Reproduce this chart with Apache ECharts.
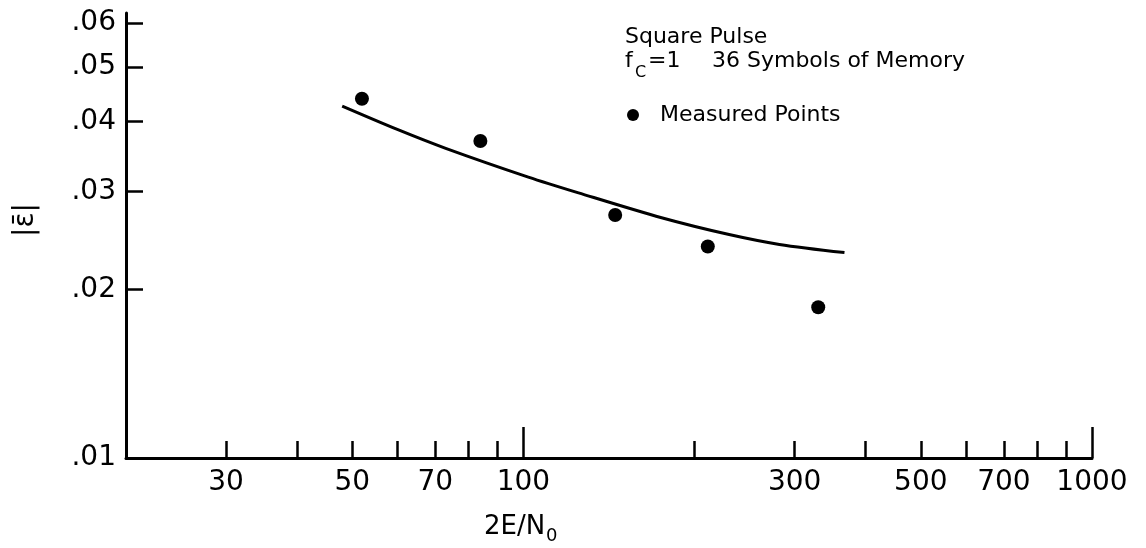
<!DOCTYPE html>
<html>
<head>
<meta charset="utf-8">
<script src="https://cdn.jsdelivr.net/npm/echarts@6/dist/echarts.min.js"></script>
<style>
  html, body { margin: 0; padding: 0; background: #fff; }
  #chart { width: 1146px; height: 548px; }
</style>
</head>
<body>
<div id="chart"></div>
<script>
// Measured error magnitude against 2E/N0
const measuredX = [52, 84, 145, 211, 330];
const measuredY = [0.0439, 0.0369, 0.0272, 0.0239, 0.0186];

// Fitted curve through the measurements
const curveX = [48, 60, 73, 102, 125, 175, 230, 282, 367];
const curveY = [0.0426, 0.0387, 0.0358, 0.0318, 0.0298, 0.0269, 0.0251, 0.0241, 0.0233];

// Axis ticks and labels (log scales)
const xTickMinor = [30, 40, 50, 60, 70, 80, 90, 200, 300, 400, 500, 600, 700, 800, 900];
const xTickMajor = [100, 1000];
const xTickLabels = [30, 50, 70, 100, 300, 500, 700, 1000];
const yTickValues = [0.02, 0.03, 0.04, 0.05, 0.06];
const yTickLabels = [0.01, 0.02, 0.03, 0.04, 0.05, 0.06];

const FONT = 'DejaVu Sans';
const INK = '#000';

const chart = echarts.init(document.getElementById('chart'), null, { renderer: 'canvas' });

const pairs = (xs, ys) => xs.map((x, i) => [x, ys[i]]);

chart.setOption({
  backgroundColor: '#fff',
  animation: false,
  grid: { left: 126, right: 54, top: 13, bottom: 90, containLabel: false },
  xAxis: [
    {
      type: 'log', logBase: 10, min: 20, max: 1000, position: 'bottom',
      axisLine: { show: true, lineStyle: { color: INK, width: 3 } },
      axisTick: { show: true, inside: true, length: 17, customValues: xTickMinor,
                  lineStyle: { color: INK, width: 2.5 } },
      axisLabel: { show: true, customValues: xTickLabels, margin: 11,
                   fontSize: 28, fontFamily: FONT, color: INK,
                   formatter: v => String(Math.round(v)) },
      splitLine: { show: false }, minorTick: { show: false }
    },
    {
      type: 'log', logBase: 10, min: 20, max: 1000, position: 'bottom',
      axisLine: { show: false },
      axisTick: { show: true, inside: true, length: 31, customValues: xTickMajor,
                  lineStyle: { color: INK, width: 2.5 } },
      axisLabel: { show: false },
      splitLine: { show: false }
    }
  ],
  yAxis: {
    type: 'log', logBase: 10, min: 0.01, max: 0.0625,
    axisLine: { show: true, lineStyle: { color: INK, width: 3 } },
    axisTick: { show: true, inside: true, length: 17, customValues: yTickValues,
                lineStyle: { color: INK, width: 2.5 } },
    axisLabel: { show: true, customValues: yTickLabels, margin: 10,
                 fontSize: 28, fontFamily: FONT, color: INK,
                 formatter: v => v.toFixed(2).replace(/^0/, '') },
    splitLine: { show: false }, minorTick: { show: false }
  },
  legend: {
    left: 627, top: 104, padding: 0,
    itemWidth: 12, itemHeight: 12,
    textStyle: { fontSize: 22, fontFamily: FONT, color: INK, padding: [0, 0, 0, 16] },
    data: [{ name: 'Measured Points', icon: 'circle', itemStyle: { color: INK, opacity: 1 } }]
  },
  graphic: [
    { type: 'text', x: 625, y: 37,
      style: { text: 'Square Pulse', fontSize: 22, fontFamily: FONT, fill: INK, verticalAlign: 'middle' } },
    { type: 'text', x: 625, y: 61,
      style: { text: 'f', fontSize: 22, fontFamily: FONT, fill: INK, verticalAlign: 'middle' } },
    { type: 'text', x: 635, y: 73,
      style: { text: 'C', fontSize: 16, fontFamily: FONT, fill: INK, verticalAlign: 'middle' } },
    { type: 'text', x: 648, y: 61,
      style: { text: '=1', fontSize: 22, fontFamily: FONT, fill: INK, verticalAlign: 'middle' } },
    { type: 'text', x: 712, y: 61,
      style: { text: '36 Symbols of Memory', fontSize: 22, fontFamily: FONT, fill: INK, verticalAlign: 'middle' } },
    { type: 'text', x: 484, y: 527,
      style: { text: '2E/N', fontSize: 26, fontFamily: FONT, fill: INK, verticalAlign: 'middle' } },
    { type: 'text', x: 546, y: 536,
      style: { text: '0', fontSize: 18, fontFamily: FONT, fill: INK, verticalAlign: 'middle' } },
    { type: 'text', x: 26, y: 220, rotation: Math.PI / 2,
      style: { text: '|ε\u0304|', fontSize: 28, fontFamily: FONT, fill: INK,
               align: 'center', verticalAlign: 'middle' } }
  ],
  series: [
    {
      name: 'Fitted curve', type: 'line', xAxisIndex: 0, yAxisIndex: 0,
      data: pairs(curveX, curveY), smooth: 0.3,
      showSymbol: false, symbol: 'none',
      lineStyle: { color: INK, width: 3 }, z: 2
    },
    {
      name: 'Measured Points', type: 'scatter', xAxisIndex: 0, yAxisIndex: 0,
      data: pairs(measuredX, measuredY), symbol: 'circle', symbolSize: 14,
      itemStyle: { color: INK, opacity: 1 }, z: 3
    }
  ]
});
</script>
</body>
</html>
